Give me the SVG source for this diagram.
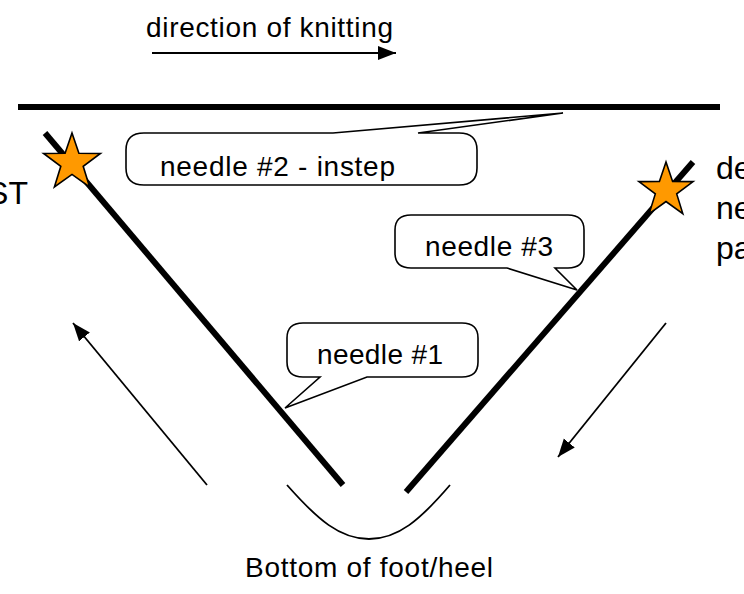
<svg xmlns="http://www.w3.org/2000/svg" width="744" height="594" viewBox="0 0 744 594">
<style>
  .t { font-family: "Liberation Sans", Arial, sans-serif; font-size: 28px; fill: #000; }
  .side { font-family: "Liberation Sans", Arial, sans-serif; font-size: 32px; fill: #000; }
  .thick { stroke: #000; stroke-width: 6; fill: none; }
  .thin { stroke: #000; stroke-width: 1.8; fill: none; }
  .callout { fill: #fff; stroke: #000; stroke-width: 1.6; stroke-linejoin: miter; }
  .star { fill: #FF9900; stroke: #000; stroke-width: 1.6; stroke-linejoin: miter; }
</style>
<defs>
  <marker id="ah" markerUnits="userSpaceOnUse" markerWidth="20" markerHeight="16" refX="18" refY="7" orient="auto">
    <path d="M0,0 L18,7 L0,14 Z" fill="#000"/>
  </marker>
  <clipPath id="clip2"><rect x="120" y="120" width="370" height="61"/></clipPath>
</defs>
<rect width="744" height="594" fill="#fff"/>

<g id="direction">
  <text class="t" x="146" y="37" textLength="247" lengthAdjust="spacing">direction of knitting</text>
</g>

<g id="connectors">
  <line class="thin" x1="152" y1="53" x2="396" y2="53" marker-end="url(#ah)"/>
  <line class="thin" x1="207" y1="485" x2="73" y2="323" marker-end="url(#ah)"/>
  <line class="thin" x1="666" y1="323" x2="558" y2="457" marker-end="url(#ah)"/>
</g>

<g id="top-line">
  <line class="thick" x1="18" y1="107" x2="720" y2="107"/>
</g>

<g id="left-needle">
  <line class="thick" x1="45" y1="133" x2="343" y2="485"/>
</g>
<g id="right-needle">
  <line class="thick" x1="693" y1="162" x2="406" y2="492"/>
</g>

<g id="heel">
  <path class="thin" d="M287,485 C318,520 340,539 369,539 C398,539 420,520 450,485"/>
  <text class="t" x="369" y="577" text-anchor="middle" textLength="248" lengthAdjust="spacing">Bottom of foot/heel</text>
</g>

<g id="star-left">
  <polygon class="star" points="72,133 78.9,153.3 100.4,153.5 83.2,166.3 89.6,186.9 72,174.4 54.4,186.9 60.8,166.3 43.6,153.5 65.1,153.3"/>
</g>
<g id="star-right">
  <polygon class="star" points="666,162 672.6,181.4 693.1,181.6 676.7,193.9 682.8,213.6 666,201.6 649.2,213.6 655.3,193.9 638.9,181.6 659.4,181.4"/>
</g>

<g id="needle2">
  <path class="callout" d="M144,133 L333,133 L563,113 L418,133 L459,133 Q477,133 477,150 L477,168 Q477,185 459,185 L144,185 Q126,185 126,168 L126,150 Q126,133 144,133 Z"/>
  <text class="t" x="160" y="176" textLength="235" lengthAdjust="spacing" clip-path="url(#clip2)">needle #2 - instep</text>
</g>

<g id="needle3">
  <path class="callout" d="M411,215 L568,215 Q584,215 584,230 L584,253 Q584,268 568,268 L555,268 L577,290 L507,268 L411,268 Q395,268 395,253 L395,230 Q395,215 411,215 Z"/>
  <text class="t" x="425" y="256" textLength="128" lengthAdjust="spacing">needle #3</text>
</g>

<g id="needle1">
  <path class="callout" d="M303,323 L462,323 Q478,323 478,338 L478,362 Q478,377 462,377 L367,377 L285,408 L320,377 L303,377 Q287,377 287,362 L287,338 Q287,323 303,323 Z"/>
  <text class="t" x="317" y="364" textLength="126" lengthAdjust="spacing">needle #1</text>
</g>

<g id="side-left">
  <text class="side" x="28" y="204" text-anchor="end">ST</text>
</g>
<g id="side-right">
  <text class="side" x="716" y="179">de</text>
  <text class="side" x="716" y="219">ne</text>
  <text class="side" x="716" y="259">pa</text>
</g>
</svg>
